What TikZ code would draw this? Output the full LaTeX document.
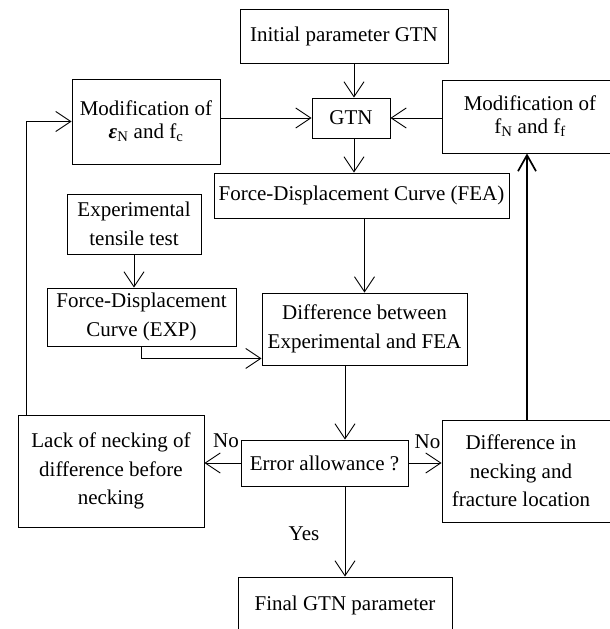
\documentclass[tikz,border=0pt]{standalone}
\usepackage{fontspec}
\setmainfont{Liberation Serif}
\usetikzlibrary{arrows.meta, positioning, calc}

\begin{document}
\begin{tikzpicture}[
    x=1pt, y=-1pt,
    box/.style={draw, line width=0.9pt, align=center, inner sep=2pt, font=\fontsize{21}{28.5}\selectfont},
    modbox/.style={box, font=\fontsize{21}{23}\selectfont},
    lbl/.style={font=\fontsize{21}{24}\selectfont, inner sep=0pt},
    flow/.style={line width=0.9pt, -{Straight Barb[length=15pt,width=20pt]}},
    loop/.style={line width=1.7pt, -{Straight Barb[length=16pt,width=18pt]}}
]
    \useasboundingbox (0,0) rectangle (610,629);
    \clip (0,0) rectangle (610,629);

    \node[box, minimum width=208pt, minimum height=54pt] (init) at (344,36) {Initial parameter GTN};
    \node[box, minimum width=78pt, minimum height=40pt] (gtn) at (351,118) {GTN};
    \node[modbox, minimum width=148pt, minimum height=85pt] (modl) at (146,121.5)
        {Modification of\\\textbf{\textit{ε}}\textsubscript{N} and f\textsubscript{c}};
    \node[modbox, minimum width=176pt, minimum height=73pt] (modr) at (530,116.5)
        {Modification of\\f\textsubscript{N} and f\textsubscript{f}};
    \node[box, minimum width=295pt, minimum height=45pt] (fea) at (361.5,195.5) {Force-Displacement Curve (FEA)};
    \node[box, minimum width=134pt, minimum height=60pt] (tens) at (134,224) {Experimental\\tensile test};
    \node[box, minimum width=189pt, minimum height=58pt] (expc) at (141.5,317) {Force-Displacement\\Curve (EXP)};
    \node[box, minimum width=205pt, minimum height=72pt] (diff) at (364.5,329) {Difference between\\Experimental and FEA};
    \node[box, minimum width=167pt, minimum height=46pt] (err) at (324.5,463) {Error allowance ?};
    \node[box, minimum width=186pt, minimum height=112pt] (lack) at (111,471) {Lack of necking of\\difference before\\necking};
    \node[box, minimum width=178pt, minimum height=102pt,
        label={[box, draw=none, xshift=-10pt]center:Difference in\\necking and\\fracture location}] (neck) at (531,471) {};
    \node[box, minimum width=214pt, minimum height=56pt] (final) at (345,605) {Final GTN parameter};

    \node[lbl] (noleft) at (226,441) {No};
    \node[lbl] (noright) at (427.5,442) {No};
    \node[lbl] (yes) at (304,534) {Yes};

    \draw[flow] ([xshift=3pt]gtn.north |- init.south) -- ([xshift=3pt]gtn.north);
    \draw[flow] (modl.east |- gtn) -- (gtn.west);
    \draw[flow] (modr.west |- gtn) -- (gtn.east);
    \draw[flow] ([xshift=3pt]gtn.south) -- ([xshift=3pt]gtn.south |- fea.north);
    \draw[flow] (fea.south -| diff) -- (diff.north);
    \draw[flow] (tens.south) -- (tens.south |- expc.north);
    \draw[flow] (expc.south) |- ([yshift=7pt]diff.south west);
    \draw[flow] (diff.south -| final) -- (err.north -| final);
    \draw[flow] (err.west) -- (err.west -| lack.east);
    \draw[flow] (err.east) -- (err.east -| neck.west);
    \draw[flow] (err.south -| final) -- (final.north);
    \draw[flow] ([xshift=8.5pt]lack.north west) |- (modl.west);
    \draw[loop] ([xshift=-4pt]neck.north) -- ([xshift=-4pt]neck.north |- modr.south);
\end{tikzpicture}
\end{document}
